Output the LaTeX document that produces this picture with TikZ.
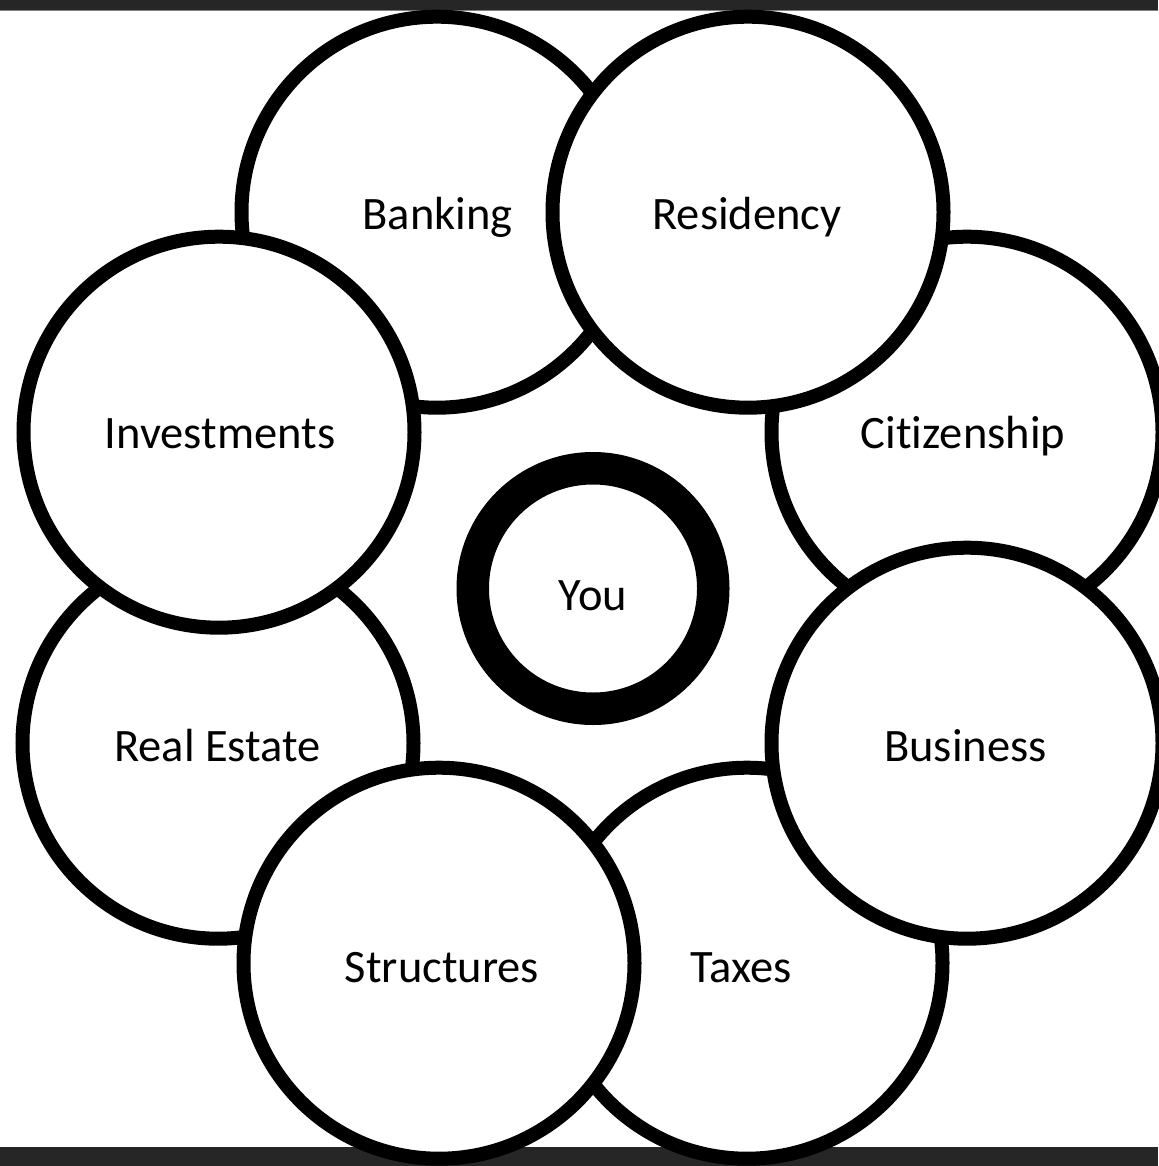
\documentclass[tikz,border=0pt]{standalone}
\usepackage{fontspec}
\setmainfont{Carlito}[Ligatures=NoCommon]
\definecolor{barcol}{HTML}{262626}
\definecolor{linecol}{HTML}{808080}
\begin{document}
\begin{tikzpicture}[x=1pt,y=-1pt,
  bubble/.style={circle,draw=black,fill=white,line width=14pt,minimum size=391pt,inner sep=0pt},
  ringnode/.style={circle,draw=black,fill=white,line width=32.5pt,minimum size=240.5pt,inner sep=0pt},
  lbl/.style={inner sep=0pt,text height=30pt,text depth=0pt,font=\fontsize{46.5}{56}\selectfont}]
\useasboundingbox (0,0) rectangle (1158,1166);
\fill[white] (0,0) rectangle (1158,1166);
% bars
\fill[barcol] (0,0) rectangle (1158,10);
\fill[linecol] (0,10) rectangle (1158,11.5);
\fill[barcol] (0,1147) rectangle (1158,1166);
% back circles
\node[bubble] (banking) at (437,212.2) {};
\node[bubble] (citizenship) at (967,432.2) {};
\node[bubble] (realestate) at (218,743.2) {};
\node[bubble] (taxes) at (747,963.2) {};
% front circles
\node[bubble] (residency) at (748,212.2) {};
\node[bubble] (investments) at (219,432.2) {};
\node[bubble] (business) at (967,743.2) {};
\node[bubble] (structures) at (439,963.2) {};
% centre ring
\node[ringnode] (you) at (593,588.5) {};
% labels
\node[lbl] (tbanking) at (437.5,214.5) {Banking};
\node[lbl] (tresidency) at (747,214.5) {Residency};
\node[lbl] (tcitizenship) at (963,433) {Citizenship};
\node[lbl] (tinvestments) at (220,433) {Investments};
\node[lbl] (trealestate) at (217.5,746) {Real Estate};
\node[lbl] (tbusiness) at (965.5,746) {Business};
\node[lbl] (tstructures) at (442,967) {Structures};
\node[lbl] (ttaxes) at (741.5,967) {Taxes};
\node[lbl] (tyou) at (593,595.5) {You};
\end{tikzpicture}
\end{document}
